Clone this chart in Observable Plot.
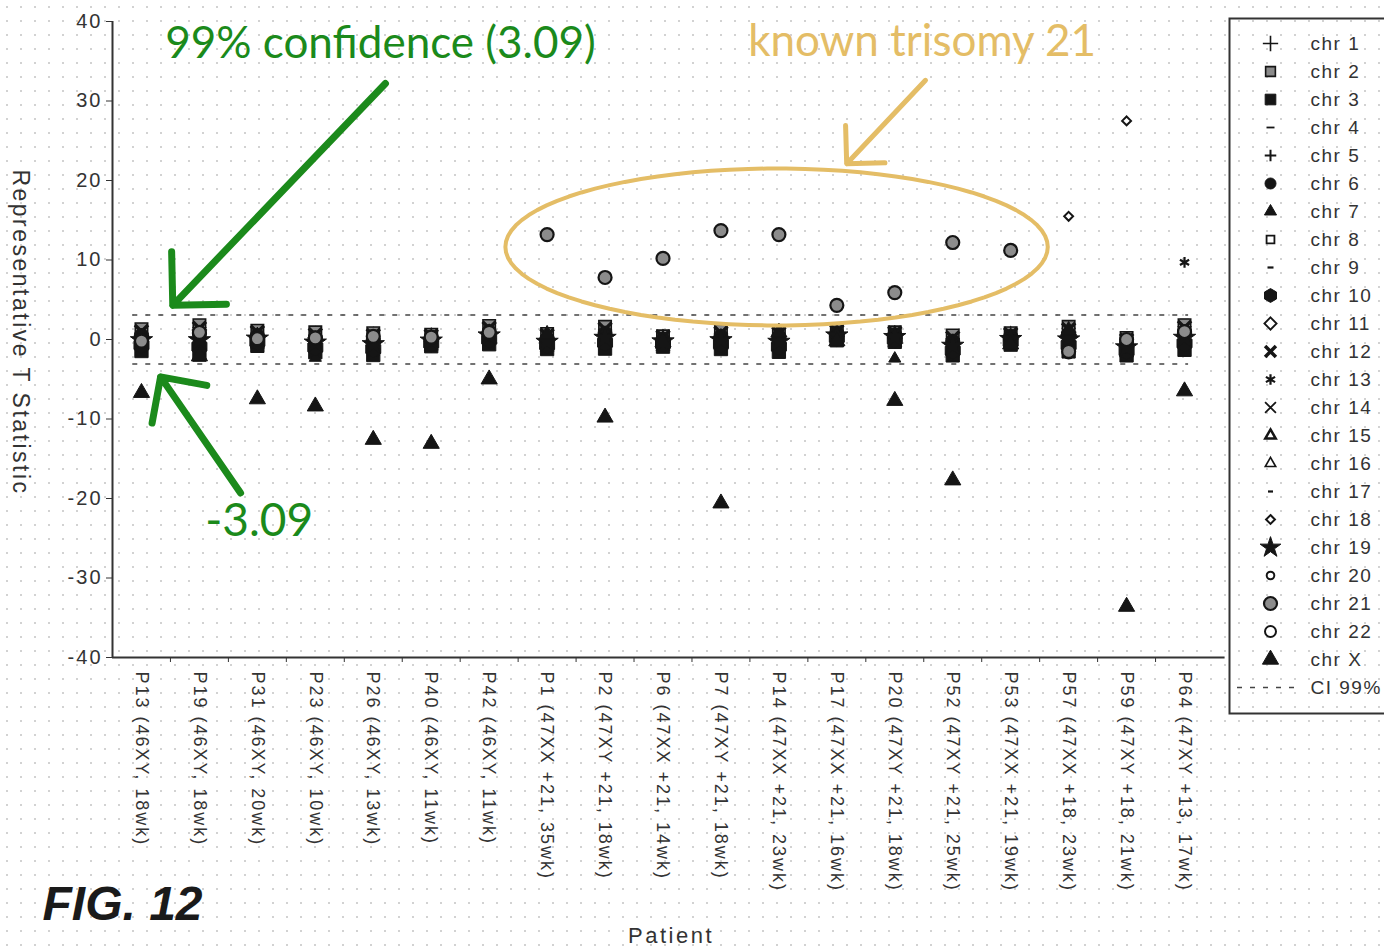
<!DOCTYPE html>
<html><head><meta charset="utf-8">
<script src="https://cdn.jsdelivr.net/npm/d3@7"></script>
<script src="https://cdn.jsdelivr.net/npm/@observablehq/plot@0.6"></script>
<style>
html,body{margin:0;padding:0;width:1384px;height:949px;overflow:hidden;background-color:#fff;}
body{background-image:radial-gradient(circle,#d2d2d2 0.8px,transparent 1.3px);background-size:14px 14px;}
#wrap{position:relative;width:1384px;height:949px;overflow:hidden;}
#main{position:absolute;left:0;top:0;}
#legend{position:absolute;left:1228px;top:17px;width:175px;}
#main [aria-label="y-axis tick label"] text{letter-spacing:2px;}
#main [aria-label="x-axis tick label"] text{letter-spacing:2px;}
#main [aria-description="ylabel"] text{letter-spacing:2.5px;}
#main [aria-description="xlabel"] text{letter-spacing:2.5px;}
#legend text{letter-spacing:1.5px;}
</style>
</head><body><div id="wrap"><div id="main"></div><div id="legend"></div></div>
<script>
// ---------- data ----------
const patients = ["P13 (46XY, 18wk)", "P19 (46XY, 18wk)", "P31 (46XY, 20wk)", "P23 (46XY, 10wk)", "P26 (46XY, 13wk)", "P40 (46XY, 11wk)", "P42 (46XY, 11wk)", "P1 (47XX +21, 35wk)", "P2 (47XY +21, 18wk)", "P6 (47XX +21, 14wk)", "P7 (47XY +21, 18wk)", "P14 (47XX +21, 23wk)", "P17 (47XX +21, 16wk)", "P20 (47XY +21, 18wk)", "P52 (47XY +21, 25wk)", "P53 (47XX +21, 19wk)", "P57 (47XX +18, 23wk)", "P59 (47XY +18, 21wk)", "P64 (47XY +13, 17wk)"];
const yTicks = [-40, -30, -20, -10, 0, 10, 20, 30, 40];
const ci = 3.09;

const chr1  = [0.5, 1.2, 0.3, 0.2, -0.4, 0.1, 0.8, -0.2, 0.6, 0.0, 0.3, -0.5, 0.4, 0.2, -0.6, 0.1, 0.9, -0.9, 0.7];
const chr2  = [1.3, 1.8, 1.1, 0.9, 0.8, 0.6, 1.7, 0.7, 1.6, 0.4, 1.1, 1.0, 1.1, 0.9, 0.5, 0.8, 1.6, 0.2, 1.8];
const chr3  = [-1.45, -1.9, -0.8, -1.6, -1.95, -0.85, -0.6, -1.2, -1.15, -0.9, -1.2, -1.55, -0.1, -0.3, -2.0, -0.65, -1.5, -2.0, -1.3];
const chr4  = [0.2, -1.9, 0.5, -0.3, -1.0, -0.2, -0.5, -0.6, -0.8, -0.5, -0.8, -1.0, -0.1, 0.0, -1.0, -0.3, -0.3, -1.5, -0.5];
const chr5  = [1.0, 0.5, 0.0, 0.5, 0.2, 0.3, 1.2, 0.1, 0.8, 0.2, 0.5, 0.1, 0.6, 0.5, -0.2, 0.4, 0.6, -0.5, 1.0];
const chr6  = [0.5, 0.7, 0.5, 0.2, 0.0, 0.2, 1.0, 0.1, 0.8, 0.05, 0.4, 0.3, 0.8, 0.6, -0.2, 0.4, 0.7, -0.4, 0.9];
const chr7  = [-1.1, -1.4, -0.6, -2.3, -1.6, -0.7, -0.3, -1.0, -0.8, -0.75, -0.9, -1.25, 0.05, -2.4, -1.7, -0.5, -1.2, -1.75, -0.95];
const chr8  = [1.3, 0.8, 1.1, 0.9, 0.9, 0.7, 1.7, 0.7, 1.7, 0.4, 1.1, 1.2, 1.1, 0.9, 0.5, 0.8, 1.6, 0.2, 2.0];
const chr9  = [0.0, 0.3, 0.2, 0.0, 0.5, 0.0, 0.5, -0.3, 0.2, -0.2, 0.0, -0.2, 0.5, 0.6, -0.4, 0.2, 0.3, -0.7, 0.5];
const chr10 = [-0.7, -0.9, -0.3, -1.0, -1.2, -0.5, 0.0, -0.7, -0.4, -0.55, -0.6, -0.9, 0.2, 0.0, -1.4, -0.3, -0.7, -1.45, -0.5];
const chr11 = [0.8, 1.5, 0.6, 0.4, 0.0, 0.4, 1.0, 0.4, 1.2, 0.1, 0.8, 0.6, 0.8, 0.3, 0.1, 0.3, 1.4, -0.3, 1.6];
const chr12 = [1.0, 1.4, 0.9, 0.6, 0.5, 0.45, 1.4, 0.5, 1.3, 0.3, 0.8, 0.75, 1.0, 0.8, 0.2, 0.65, 1.25, -0.1, 1.5];
const chr13 = [0.3, 0.6, 0.4, 0.3, 0.3, 0.2, 0.3, 0.2, 0.4, 0.2, 0.2, 0.3, 0.7, 0.4, 0.0, 0.5, 0.8, -1.1, 9.7];
const chr14 = [-0.2, -0.3, 0.1, -0.4, -0.2, -0.3, 0.6, -0.5, 0.0, -0.3, -0.2, -0.7, 0.2, 0.2, -0.5, -0.1, 0.0, -1.0, 0.2];
const chr15 = [0.6, 1.0, 0.8, 0.7, 0.6, 0.5, 1.4, 0.5, 1.0, 0.3, 0.7, 0.8, 1.0, 0.7, 0.2, 0.7, 1.0, -0.1, 1.1];
const chr16 = [-0.5, 0.0, -0.2, -0.5, -0.8, -0.6, 0.1, -0.4, -0.4, -0.1, -0.6, -0.3, 0.4, 0.3, -1.2, -0.2, -1.4, -0.8, -0.2];
const chr17 = [0.1, -0.2, -0.1, 0.1, 0.0, -0.1, 0.9, 0.0, 0.3, 0.0, 0.1, 0.2, 0.6, 0.4, -0.3, 0.0, 0.2, -0.6, 0.4];
const chr18 = [0.4, 0.2, 0.3, -0.1, -0.3, 0.0, 0.6, -0.1, -0.2, -0.4, -0.3, -0.2, 0.0, 0.0, -0.7, 0.2, 15.5, 27.5, 0.8];
const chr19 = [-0.1, -0.1, 0.1, -0.4, -0.6, -0.15, 0.5, -0.3, 0.2, -0.25, -0.1, -0.3, 0.5, 0.3, -0.8, 0.05, 0.0, -1.0, 0.2];
const chr20 = [1.2, 1.0, 0.7, 0.8, 0.6, 0.6, 1.1, 0.3, 0.9, 0.5, 0.4, 0.5, 0.9, 0.5, -0.1, 0.5, 1.7, -0.4, 1.5];
const chr21 = [-0.2, 0.9, 0.1, 0.2, 0.4, 0.3, 0.9, 13.2, 7.8, 10.2, 13.7, 13.2, 4.3, 5.9, 12.2, 11.2, -1.5, 0.0, 1.0];
const chr22 = [0.9, 0.4, 0.0, -0.2, -0.9, 0.2, 0.0, 0.0, 0.5, 0.0, -0.4, 0.0, 0.3, 0.2, -2.0, 0.0, -1.7, -0.2, -0.6];
const chrX  = [-6.7, -2.1, -7.5, -8.4, -12.6, -13.1, -5.0, 0.6, -9.8, -0.3, -20.6, 0.9, -0.2, -7.7, -17.7, -0.6, 1.1, -33.6, -6.5];

const chrNames = ["chr 1","chr 2","chr 3","chr 4","chr 5","chr 6","chr 7","chr 8","chr 9","chr 10","chr 11","chr 12","chr 13","chr 14","chr 15","chr 16","chr 17","chr 18","chr 19","chr 20","chr 21","chr 22","chr X"];
const chrValues = [chr1,chr2,chr3,chr4,chr5,chr6,chr7,chr8,chr9,chr10,chr11,chr12,chr13,chr14,chr15,chr16,chr17,chr18,chr19,chr20,chr21,chr22,chrX];
const ciLabel = "CI 99%";

// annotation texts
const noteTop = "99% confidence (3.09)";
const noteLow = "-3.09";
const noteT21 = "known trisomy 21";

// ---------- styles ----------
const dash = {draw(ctx, size){ const r = Math.sqrt(size/Math.PI); ctx.moveTo(-r,0); ctx.lineTo(r,0); }};
const K = "#151515";
const styles = [
  {symbol:"plus", r:5, fill:"none", stroke:K, strokeWidth:1.6},
  {symbol:"square", r:5.5, fill:"#8a8a8a", stroke:K, strokeWidth:1.6},
  {symbol:"square", r:6, fill:K, stroke:K, strokeWidth:1},
  {symbol:dash, r:4, fill:"none", stroke:K, strokeWidth:1.8},
  {symbol:"plus", r:3.8, fill:"none", stroke:K, strokeWidth:2},
  {symbol:"circle", r:5.5, fill:K, stroke:K, strokeWidth:1},
  {symbol:"triangle", r:4.5, fill:K, stroke:K, strokeWidth:1},
  {symbol:"square2", r:5, fill:"white", stroke:K, strokeWidth:1.8},
  {symbol:dash, r:3, fill:"none", stroke:K, strokeWidth:2.2},
  {symbol:"hexagon", r:6, fill:K, stroke:K, strokeWidth:1},
  {symbol:"diamond2", r:5.5, fill:"white", stroke:K, strokeWidth:1.8},
  {symbol:"times", r:5, fill:"none", stroke:K, strokeWidth:3.5},
  {symbol:"asterisk", r:5, fill:"none", stroke:K, strokeWidth:2.2},
  {symbol:"times", r:5, fill:"none", stroke:K, strokeWidth:1.8},
  {symbol:"triangle2", r:5, fill:"white", stroke:K, strokeWidth:2.5},
  {symbol:"triangle2", r:5, fill:"white", stroke:K, strokeWidth:1.6},
  {symbol:dash, r:2.5, fill:"none", stroke:K, strokeWidth:2.2},
  {symbol:"diamond2", r:4, fill:"white", stroke:K, strokeWidth:2},
  {symbol:"star", r:6.5, fill:K, stroke:K, strokeWidth:1},
  {symbol:"circle", r:3.8, fill:"white", stroke:K, strokeWidth:2},
  {symbol:"circle", r:6.5, fill:"#8c8c8c", stroke:K, strokeWidth:2.2},
  {symbol:"circle", r:5.5, fill:"white", stroke:K, strokeWidth:2},
  {symbol:"triangle", r:6, fill:K, stroke:K, strokeWidth:1}
];
// slightly larger filled markers in the plot body (the scan blurs them wider)
const bodyR = {1: 7, 2: 7.5, 5: 7, 9: 7.5, 11: 6, 18: 7};
const bodyStyles = styles.map((s, c) => bodyR[c] ? {...s, r: bodyR[c]} : s);
// painting order: hollow markers first, filled on top, chr 21 and chr X last
const drawOrder = [0, 3, 4, 7, 8, 10, 13, 14, 15, 16, 17, 19, 21, 1, 2, 5, 6, 9, 11, 12, 18, 20, 22];

const GREEN = "#1b8a1b";
const GOLD = "#e4bd66";
const idx = patients.map((_, i) => i);
const halfTicks = idx.slice(1).map(i => i - 0.5);

const rows = chrNames.map((name, c) => chrValues[c].map((t, i) => ({chr: name, patient: i, t})));

// annotation geometry in data units (patient index, T)
const arrows = [
  {x1: 4.21, y1: 32.2, x2: 0.54, y2: 4.3, stroke: GREEN, w: 7, head: 11.5},
  {x1: 1.71, y1: -19.3, x2: 0.33, y2: -4.7, stroke: GREEN, w: 7, head: 11.5},
  {x1: 13.53, y1: 32.6, x2: 12.17, y2: 22.1, stroke: GOLD, w: 5, head: 12}
];
const ell = {cx: 10.96, cy: 11.64, rx: 4.68, ry: 9.87};
const ellipsePts = d3.range(0, 361, 4).map(a => ({x: ell.cx + ell.rx*Math.cos(a*Math.PI/180), y: ell.cy + ell.ry*Math.sin(a*Math.PI/180)}));

const main = Plot.plot({
  width: 1384, height: 949,
  marginLeft: 112, marginRight: 171, marginTop: 21, marginBottom: 292,
  style: {background: "transparent", color: "#333", fontFamily: "'Liberation Sans', Arial, sans-serif", overflow: "visible", maxWidth: "none"},
  x: {domain: [-0.5, patients.length - 0.5], axis: null},
  y: {domain: [-40, 40], axis: null},
  marks: [
    Plot.ruleY([ci, -ci], {x1: -0.15, x2: patients.length - 0.93, stroke: "#444", strokeWidth: 1.6, strokeDasharray: "5,8"}),
    Plot.axisY(yTicks, {tickSize: 6, tickPadding: 4, fontSize: 20, label: null, stroke: "#333", tickFormat: d => String(d)}),
    Plot.axisX(idx, {tickFormat: d => patients[d], tickRotate: 90, tickSize: 0, tickPadding: 14, fontSize: 18, label: null}),
    Plot.axisX(halfTicks, {tickFormat: () => "", tickSize: 5, label: null, stroke: "#333"}),
    Plot.ruleX([-0.5], {stroke: "#333", strokeWidth: 2}),
    Plot.ruleY([-40], {x1: -0.5, x2: patients.length - 0.3, stroke: "#333", strokeWidth: 2}),
    Plot.text(["Representative T Statistic"], {ariaDescription: "ylabel", frameAnchor: "left", textAnchor: "middle", dx: -92, dy: -7, rotate: 90, fontSize: 23, fill: "#333"}),
    Plot.text(["Patient"], {ariaDescription: "xlabel", frameAnchor: "bottom", dx: 8, dy: 285, fontSize: 22, fill: "#333"}),
    Plot.text(["FIG. 12"], {frameAnchor: "bottom-left", dx: -70, dy: 262, textAnchor: "start", fontSize: 48, fontWeight: "bold", fontStyle: "italic", fill: "#1a1a1a"}),
    ...drawOrder.map(c => Plot.dot(rows[c], {x: "patient", y: "t", ...bodyStyles[c]})),
    Plot.line(ellipsePts, {x: "x", y: "y", stroke: GOLD, strokeWidth: 4}),
    ...arrows.map(a => Plot.arrow([a], {x1: "x1", y1: "y1", x2: "x2", y2: "y2", stroke: a.stroke, strokeWidth: a.w, headLength: a.head, headAngle: 90})),
    Plot.text([noteTop], {x: 0.41, y: 37.2, textAnchor: "start", fontSize: 44, fontFamily: "Lato, 'Open Sans', sans-serif", fill: GREEN}),
    Plot.text([noteLow], {x: 1.10, y: -22.9, textAnchor: "start", fontSize: 46, fontFamily: "Lato, 'Open Sans', sans-serif", fill: GREEN}),
    Plot.text([noteT21], {x: 10.47, y: 37.4, textAnchor: "start", fontSize: 44, fontFamily: "Lato, 'Open Sans', sans-serif", fill: GOLD})
  ]
});
document.getElementById("main").appendChild(main);

const legendLabels = [...chrNames, ciLabel];
const legend = Plot.plot({
  width: 175, height: 697, margin: 0,
  style: {background: "transparent", color: "#333", fontFamily: "'Liberation Sans', Arial, sans-serif", overflow: "visible", maxWidth: "none"},
  x: {domain: [0, 175], range: [0, 175], axis: null},
  y: {type: "point", domain: legendLabels, range: [20, 676], padding: 0, axis: null},
  marks: [
    Plot.frame({stroke: "#333", strokeWidth: 2, inset: 1}),
    ...chrNames.map((name, c) => Plot.dot([name], {x: 42, y: d => d, ...styles[c]})),
    Plot.ruleY([ciLabel], {y: d => d, x1: 9, x2: 74, stroke: "#444", strokeWidth: 1.6, strokeDasharray: "5,8"}),
    Plot.text(legendLabels, {x: 82, y: d => d, text: d => d, textAnchor: "start", fontSize: 19, fill: "#333"})
  ]
});
document.getElementById("legend").appendChild(legend);
</script>
</body></html>
